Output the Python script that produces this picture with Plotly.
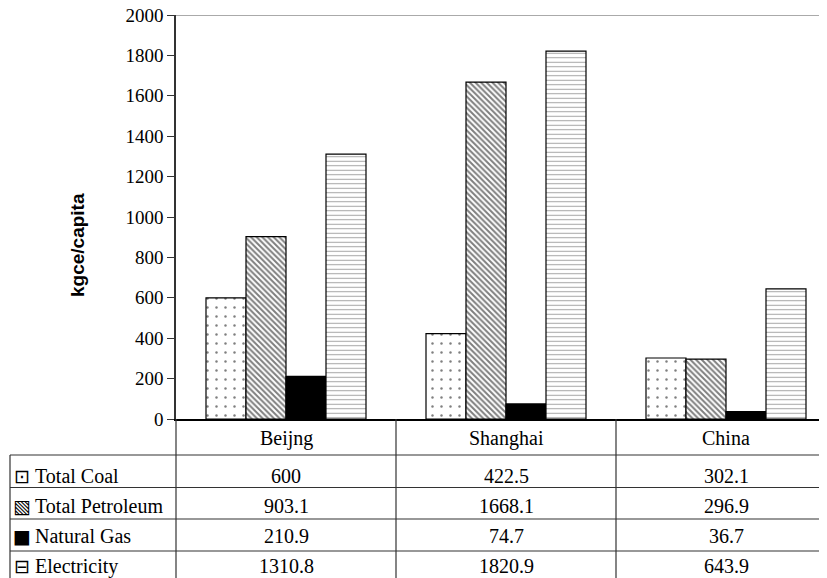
import plotly.graph_objects as go

# ---- data ----
regions = ["Beijng", "Shanghai", "China"]
series_names = ["Total Coal", "Total Petroleum", "Natural Gas", "Electricity"]
total_coal = [600, 422.5, 302.1]
total_petroleum = [903.1, 1668.1, 296.9]
natural_gas = [210.9, 74.7, 36.7]
electricity = [1310.8, 1820.9, 643.9]
y_ticks = [0, 200, 400, 600, 800, 1000, 1200, 1400, 1600, 1800, 2000]
legend_keys = ["\u22A1", "\u25A7", "\u25A0", "\u229F"]

values = [total_coal, total_petroleum, natural_gas, electricity]

# ---- layout geometry (pixels); page body has an 8px offset ----
OFF = 8
W, H = 827, 578
L, R, T, B = 168, 0, 7, 167
PW = W - L - R
PH = H - T - B


def px_x(sx):
    return (sx - OFF - L) / PW


def px_y(sy):
    return (H - B - (sy - OFF)) / PH


SERIF = "Liberation Serif, Times New Roman, serif"
SANS = "Liberation Sans, Arial, sans-serif"
TFS = 20

styles = [
    dict(color="white", pattern=dict(shape=".", fgcolor="black", bgcolor="white", size=9, solidity=0.06)),
    dict(color="white", pattern=dict(shape="\\", fgcolor="black", bgcolor="white", size=4, solidity=0.5)),
    dict(color="black"),
    dict(color="white", pattern=dict(shape="-", fgcolor="#444444", bgcolor="white", size=4.5, solidity=0.22)),
]

fig = go.Figure()
for name, vals, st in zip(series_names, values, styles):
    fig.add_trace(go.Bar(
        x=regions, y=vals, name=name,
        marker=dict(line=dict(color="black", width=1.2), **st),
    ))

shapes = []
annotations = []

# top gray line
shapes.append(dict(type="line", xref="paper", yref="y", x0=0, x1=1, y0=2000, y1=2000,
                   line=dict(color="#aaaaaa", width=2)))

# table lines
row_lines = [455, 487.5, 519, 551]
for sy in row_lines:
    shapes.append(dict(type="line", xref="paper", yref="paper", x0=px_x(10), x1=1,
                       y0=px_y(sy), y1=px_y(sy), line=dict(color="#333333", width=1.2)))
# left border
shapes.append(dict(type="line", xref="paper", yref="paper", x0=px_x(10), x1=px_x(10),
                   y0=px_y(455), y1=px_y(600), line=dict(color="#333333", width=1.2)))
# y-axis extension down through table
shapes.append(dict(type="line", xref="paper", yref="paper", x0=0, x1=0,
                   y0=0, y1=px_y(600), line=dict(color="#333333", width=1.2)))
# column separators
for xb in [0.5, 1.5]:
    shapes.append(dict(type="line", xref="x", yref="paper", x0=xb, x1=xb,
                       y0=0, y1=px_y(600), line=dict(color="#333333", width=1.2)))

# header row labels
for r in regions:
    annotations.append(dict(x=r, xref="x", y=px_y(438), yref="paper", text=r, showarrow=False,
                            xanchor="center", yanchor="middle", font=dict(family=SERIF, size=TFS, color="black")))

row_centers = [476, 506, 536, 566]
for name, vals, key, yc in zip(series_names, values, legend_keys, row_centers):
    annotations.append(dict(x=px_x(22), xref="paper", y=px_y(yc), yref="paper", text=key, showarrow=False,
                            xanchor="center", yanchor="middle",
                            font=dict(family="DejaVu Sans", size=19, color="black")))
    annotations.append(dict(x=px_x(33), xref="paper", y=px_y(yc), yref="paper", text=name, showarrow=False,
                            xanchor="left", yanchor="middle",
                            font=dict(family=SERIF, size=TFS, color="black")))
    for r, v in zip(regions, vals):
        annotations.append(dict(x=r, xref="x", y=px_y(yc), yref="paper", text=f"{v:g}", showarrow=False,
                                xanchor="center", yanchor="middle",
                                font=dict(family=SERIF, size=TFS, color="black")))

# y-axis title
annotations.append(dict(x=px_x(77), xref="paper", y=px_y(245), yref="paper", text="<b>kgce/capita</b>",
                        showarrow=False, textangle=-90, xanchor="center", yanchor="middle",
                        font=dict(family=SANS, size=19, color="black")))

fig.update_layout(
    width=W, height=H,
    margin=dict(l=L, r=R, t=T, b=B, pad=0, autoexpand=False),
    paper_bgcolor="white", plot_bgcolor="white",
    barmode="group", bargap=60 / 220, bargroupgap=0,
    showlegend=False,
    shapes=shapes, annotations=annotations,
    xaxis=dict(range=[-0.5, 2.5 - 1 / 220], showticklabels=False, ticks="", showgrid=False,
               showline=True, linecolor="black", linewidth=1.5, zeroline=False, fixedrange=True,
               automargin=False),
    yaxis=dict(range=[0, 2000], tickvals=y_ticks, ticks="outside", ticklen=7, tickcolor="#333333",
               showgrid=False, showline=True, linecolor="#333333", linewidth=1.5, zeroline=False,
               ticklabeloverflow="allow", automargin=False,
               tickfont=dict(family=SERIF, size=19, color="black"), fixedrange=True),
)

fig.write_html("out.html")
